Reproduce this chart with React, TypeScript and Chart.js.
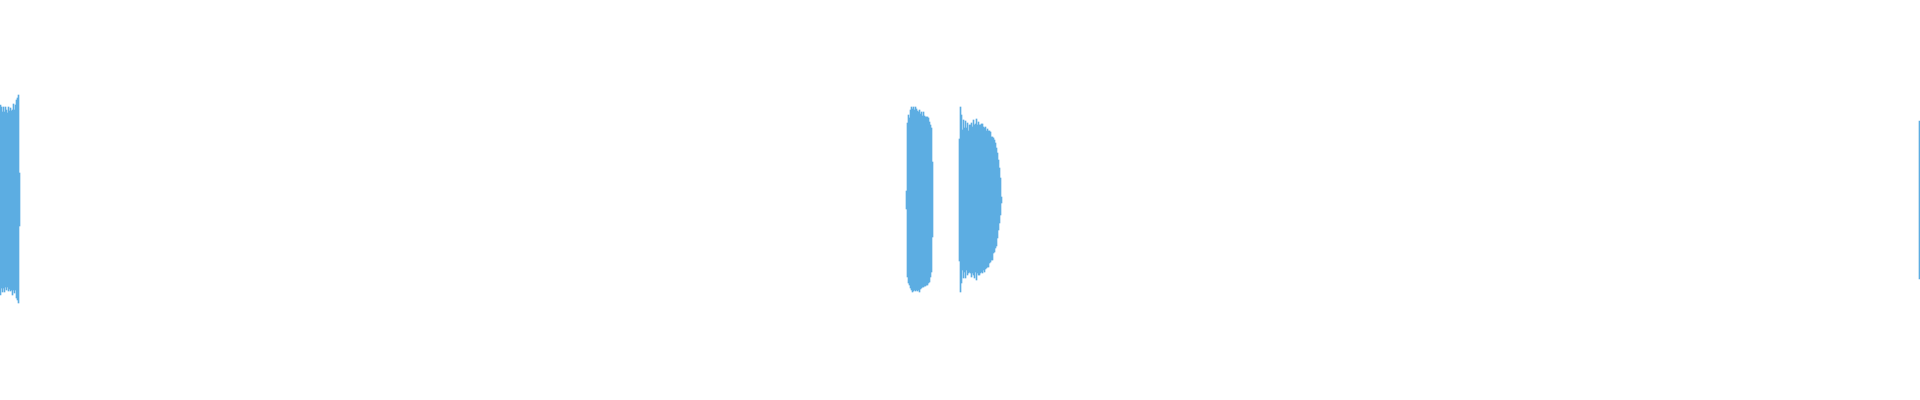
import React, { useEffect, useRef } from "react";
import Chart from "chart.js/auto";

// waveform: one column per pixel, mostly silent, four bursts
const totalColumns = 1920;
const burstStarts = [0, 906, 959, 1919];

const burstPeaks = [
  [0.475, 0.465, 0.44, 0.465, 0.44, 0.465, 0.45, 0.435, 0.465, 0.445, 0.46, 0.445, 0.45, 0.48, 0.45, 0.475, 0.5, 0.51, 0.525, 0.135],
  [0.045, 0.385, 0.425, 0.41, 0.45, 0.465, 0.455, 0.465, 0.45, 0.465, 0.455, 0.445, 0.44, 0.45, 0.43, 0.44, 0.42, 0.44, 0.42, 0.415, 0.415, 0.415, 0.41, 0.39, 0.375, 0.36, 0.19],
  [0.305, 0.465, 0.425, 0.35, 0.4, 0.36, 0.395, 0.36, 0.385, 0.345, 0.375, 0.375, 0.385, 0.365, 0.4, 0.375, 0.38, 0.405, 0.375, 0.39, 0.375, 0.375, 0.38, 0.38, 0.365, 0.36, 0.365, 0.345, 0.355, 0.345, 0.345, 0.34, 0.315, 0.315, 0.31, 0.3, 0.285, 0.26, 0.235, 0.2, 0.16, 0.11, 0.015],
  [0.395],
];

const burstTroughs = [
  [-0.475, -0.44, -0.46, -0.44, -0.46, -0.435, -0.45, -0.435, -0.455, -0.445, -0.455, -0.45, -0.475, -0.45, -0.465, -0.45, -0.49, -0.5, -0.515, -0.13],
  [-0.045, -0.385, -0.415, -0.425, -0.44, -0.45, -0.46, -0.455, -0.45, -0.455, -0.45, -0.455, -0.45, -0.46, -0.445, -0.44, -0.435, -0.435, -0.43, -0.43, -0.425, -0.425, -0.415, -0.41, -0.385, -0.36, -0.185],
  [-0.305, -0.46, -0.415, -0.35, -0.39, -0.36, -0.39, -0.35, -0.375, -0.365, -0.36, -0.365, -0.385, -0.365, -0.375, -0.39, -0.36, -0.4, -0.365, -0.375, -0.375, -0.365, -0.36, -0.365, -0.35, -0.36, -0.345, -0.34, -0.335, -0.335, -0.315, -0.31, -0.3, -0.3, -0.265, -0.26, -0.24, -0.23, -0.19, -0.15, -0.115, -0.075, -0.015],
  [-0.395],
];

const waveColor = "#5DADE2";

const App: React.FC = () => {
  const chartRef = useRef<HTMLCanvasElement | null>(null);
  const chartInstance = useRef<Chart | null>(null);

  useEffect(() => {
    if (!chartRef.current) return;
    if (chartInstance.current) chartInstance.current.destroy();

    const points: { x: number; y: [number, number] }[] = [];
    burstStarts.forEach((start, b) => {
      burstPeaks[b].forEach((hi, i) => {
        points.push({ x: start + i + 0.5, y: [burstTroughs[b][i], hi] });
      });
    });

    chartInstance.current = new Chart(chartRef.current, {
      type: "bar",
      data: {
        datasets: [
          {
            data: points as any,
            backgroundColor: waveColor,
            borderWidth: 0,
            barThickness: 1,
          },
        ],
      },
      options: {
        responsive: true,
        maintainAspectRatio: false,
        animation: false,
        layout: { padding: 0 },
        plugins: {
          legend: { display: false },
          tooltip: { enabled: false },
        },
        scales: {
          x: {
            type: "linear",
            min: 0,
            max: totalColumns,
            offset: false,
            grid: { offset: false },
            display: false,
          },
          y: { min: -1, max: 1, display: false },
        },
      },
    });

    return () => {
      if (chartInstance.current) {
        chartInstance.current.destroy();
        chartInstance.current = null;
      }
    };
  }, []);

  return (
    <div style={{ position: "fixed", left: 0, top: 0, width: "1920px", height: "400px", background: "#fff" }}>
      <canvas ref={chartRef} />
    </div>
  );
};

export default App;
